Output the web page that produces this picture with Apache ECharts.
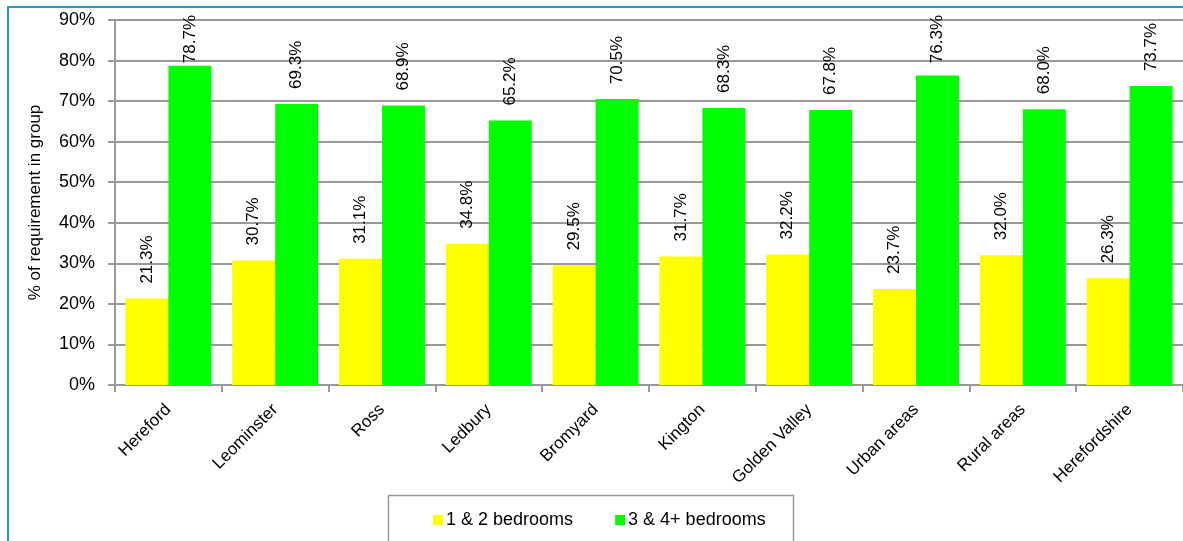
<!DOCTYPE html>
<html><head><meta charset="utf-8">
<script src="https://cdn.jsdelivr.net/npm/echarts@6/dist/echarts.min.js"></script>
<style>html,body{margin:0;padding:0;background:#fff;}#c{width:1183px;height:541px;}</style>
</head><body><div id="c"></div>
<script>
const categories = ['Hereford','Leominster','Ross','Ledbury','Bromyard','Kington','Golden Valley','Urban areas','Rural areas','Herefordshire'];
const small = [21.3,30.7,31.1,34.8,29.5,31.7,32.2,23.7,32.0,26.3];
const large = [78.7,69.3,68.9,65.2,70.5,68.3,67.8,76.3,68.0,73.7];
const yTicks = {min:0,max:90,interval:10};
const font = 'Liberation Sans, Arial, sans-serif';
const chart = echarts.init(document.getElementById('c'));
const lbl = {show:true,position:'top',rotate:90,align:'left',verticalAlign:'middle',distance:15,
  color:'#000',fontFamily:font,fontSize:17,formatter:p=>p.value.toFixed(1)+'%'};
// keep labels inside the chart area (rotated label: local x points up)
const clampTop = p => (p.labelRect.y < 15 ? {dx: p.labelRect.y - 15} : {});
chart.setOption({
  animation:false,
  textStyle:{fontFamily:font},
  grid:{left:115,top:20,bottom:156,right:-2},
  graphic:[
    {type:'rect',shape:{x:8,y:7,width:1300,height:700},style:{fill:'none',stroke:'#1b9ad6',lineWidth:2},z:-10},
    {type:'rect',shape:{x:388.5,y:495.5,width:405,height:80},style:{fill:'#fff',stroke:'#999',lineWidth:1.5},z:-5}
  ],
  legend:{left:428,top:506,itemWidth:10,itemHeight:10,itemGap:42,icon:'rect',
    textStyle:{fontFamily:font,fontSize:18,color:'#000',padding:[0,0,0,-2]},
    data:['1 & 2 bedrooms','3 & 4+ bedrooms']},
  xAxis:{type:'category',data:categories,
    axisLine:{lineStyle:{color:'#999',width:2}},
    axisTick:{show:true,length:7,lineStyle:{color:'#999',width:2}},
    axisLabel:{interval:0,rotate:45,color:'#000',fontFamily:font,fontSize:17,margin:22}},
  yAxis:{type:'value',min:yTicks.min,max:yTicks.max,interval:yTicks.interval,
    name:'% of requirement in group',nameLocation:'middle',nameGap:71,
    nameTextStyle:{fontFamily:font,fontSize:17,color:'#000'},
    axisLine:{show:true,lineStyle:{color:'#999',width:2}},
    axisTick:{show:true,length:7,lineStyle:{color:'#999',width:2}},
    splitLine:{lineStyle:{color:'#999',width:2}},
    axisLabel:{formatter:'{value}%',color:'#000',fontFamily:font,fontSize:18,margin:20}},
  series:[
    {name:'1 & 2 bedrooms',type:'bar',data:small,itemStyle:{color:'#ffff00'},barGap:'0%',barCategoryGap:'19.5%',label:lbl,labelLayout:clampTop},
    {name:'3 & 4+ bedrooms',type:'bar',data:large,itemStyle:{color:'#00ff00'},barGap:'0%',barCategoryGap:'19.5%',label:lbl,labelLayout:clampTop}
  ]
});
</script></body></html>
